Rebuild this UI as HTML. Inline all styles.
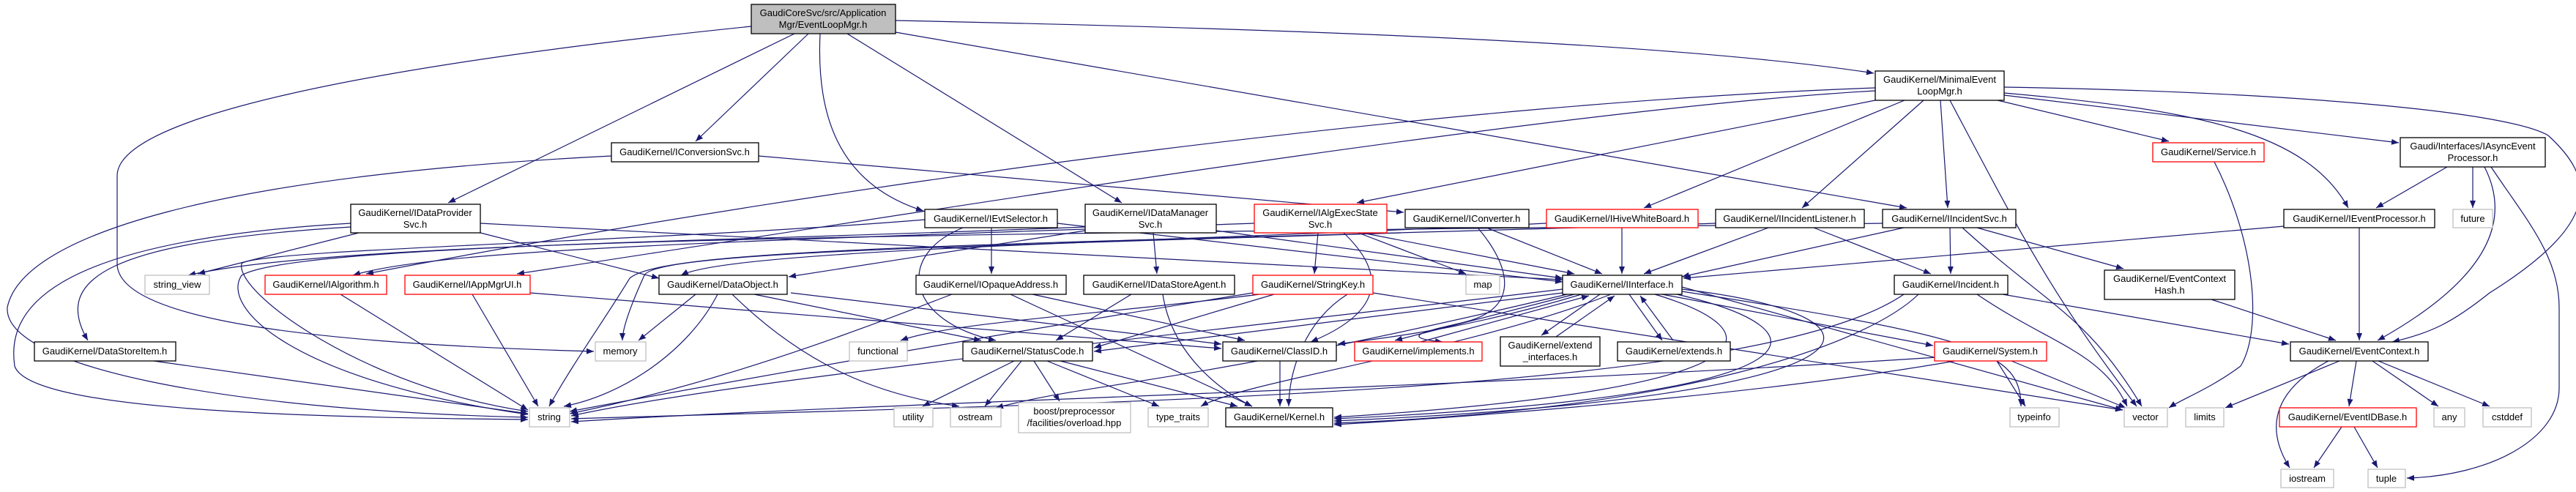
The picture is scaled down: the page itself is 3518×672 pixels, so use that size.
<!DOCTYPE html>
<html><head><meta charset="utf-8"><style>
html,body{margin:0;padding:0;background:#fff}
svg{display:block}
text{font-family:"Liberation Sans",sans-serif;font-size:13px;fill:#000;text-anchor:middle}
.e{fill:none;stroke:#191970;stroke-width:1.2}
.n{fill:#fff;stroke:#000;stroke-width:1.3}
.g{fill:#fff;stroke:#bfbfbf;stroke-width:1.3}
.r{fill:#fff;stroke:#ff0000;stroke-width:1.3}
</style></head><body>
<svg width="3518" height="672" viewBox="0 0 3518 672" xmlns="http://www.w3.org/2000/svg">
<defs><marker id="a" viewBox="0 0 10 10" refX="10" refY="5" markerWidth="10" markerHeight="10" markerUnits="userSpaceOnUse" orient="auto"><path d="M0,1 L10,5 L0,9 z" fill="#191970"/></marker></defs>
<g class="e" marker-end="url(#a)">
<path d="M1026,36 C500,90 160,160 160,240 L160,360 C160,440 450,470 811,480"/>
<path d="M1085,46 L612,277"/>
<path d="M1104,46 L950,193"/>
<path d="M1120,46 C1115,150 1140,250 1261,288"/>
<path d="M1157,46 L1532,277"/>
<path d="M1223,28 C1800,40 2300,60 2559,100"/>
<path d="M1223,44 L2604,284"/>
<path d="M2561,120 C2000,140 1200,240 500,374"/>
<path d="M2561,124 C2100,150 1200,300 706,374"/>
<path d="M2561,137 L1853,277"/>
<path d="M2601,137 L2245,284"/>
<path d="M2627,137 L2461,284"/>
<path d="M2650,137 L2660,284"/>
<path d="M2663,137 C2760,320 2800,400 2918,555"/>
<path d="M2728,137 L2962,193"/>
<path d="M2737,127 C3000,150 3150,180 3207,284"/>
<path d="M2737,130 L3276,195"/>
<path d="M2737,119 C3100,125 3420,150 3480,185 C3540,240 3560,300 3400,400 C3350,440 3320,455 3267,467"/>
<path d="M3342,228 L3245,284"/>
<path d="M3377,228 L3377,284"/>
<path d="M3393,228 C3430,300 3400,380 3247,465"/>
<path d="M3402,228 C3450,300 3495,350 3495,420 L3495,530 C3495,600 3400,650 3287,653"/>
<path d="M3222,311 L3222,465"/>
<path d="M3119,309 L2299,380"/>
<path d="M2663,311 L2664,374"/>
<path d="M2700,311 L2900,367"/>
<path d="M2680,311 C2800,420 2850,430 2925,555"/>
<path d="M2600,311 L2297,378"/>
<path d="M2415,311 L2245,374"/>
<path d="M2477,311 L2637,374"/>
<path d="M2215,311 L2215,374"/>
<path d="M2030,311 L2188,374"/>
<path d="M2018,311 C2060,360 2080,420 2000,440 C1960,450 1900,460 1970,467"/>
<path d="M1800,318 L1795,374"/>
<path d="M1855,318 L2002,374"/>
<path d="M1860,318 L2150,374"/>
<path d="M1835,318 C1900,380 1880,430 1790,467"/>
<path d="M1575,318 L1580,374"/>
<path d="M1661,315 L2134,380"/>
<path d="M1482,315 L1077,378"/>
<path d="M1354,311 L1354,374"/>
<path d="M1315,311 C1220,350 1240,440 1360,465"/>
<path d="M1444,305 L2134,385"/>
<path d="M1036,213 L1917,290"/>
<path d="M835,213 C300,240 30,320 10,420 C5,500 300,560 721,570"/>
<path d="M490,318 L270,374"/>
<path d="M656,318 L900,380"/>
<path d="M656,305 L2134,382"/>
<path d="M479,310 C150,330 70,380 120,465"/>
<path d="M479,305 C50,330 10,430 20,500 C40,560 400,570 721,573"/>
<path d="M950,402 L872,465"/>
<path d="M980,402 C940,480 850,540 770,555"/>
<path d="M1030,402 L1340,465"/>
<path d="M1080,400 L1668,470"/>
<path d="M1000,402 C1100,500 1200,540 1310,555"/>
<path d="M1300,402 C1200,440 1000,520 778,565"/>
<path d="M1380,402 L1710,555"/>
<path d="M1410,402 L1700,465"/>
<path d="M1588,402 C1600,480 1660,530 1710,555"/>
<path d="M1545,402 L1442,465"/>
<path d="M1740,402 L1494,475"/>
<path d="M1720,402 C1500,430 1300,440 1230,465"/>
<path d="M1711,400 C1400,450 1000,520 778,562"/>
<path d="M1840,402 C1780,440 1760,510 1760,555"/>
<path d="M1875,400 L2899,560"/>
<path d="M2134,400 L1494,480"/>
<path d="M2160,402 C2000,450 1900,460 1827,470"/>
<path d="M2150,402 L1905,465"/>
<path d="M1940,467 L2170,404"/>
<path d="M2185,402 L2105,458"/>
<path d="M2125,460 L2205,404"/>
<path d="M2225,402 L2270,465"/>
<path d="M2285,465 L2240,404"/>
<path d="M2270,402 L2640,472"/>
<path d="M2260,402 C2420,450 2450,530 1822,570"/>
<path d="M2290,402 C2500,450 2520,540 1822,572"/>
<path d="M2297,395 C2600,430 2620,540 1822,575"/>
<path d="M2297,392 L2899,560"/>
<path d="M2297,398 C2700,460 2760,480 2760,555"/>
<path d="M2200,402 C2000,480 1700,520 1640,555"/>
<path d="M2140,402 C1600,530 1500,520 1360,557"/>
<path d="M2134,395 C1500,470 1000,520 780,568"/>
<path d="M2735,402 L3126,470"/>
<path d="M2600,402 C2400,540 1500,550 780,572"/>
<path d="M2620,402 C2550,470 2300,560 1822,578"/>
<path d="M2700,402 C2800,470 2870,480 2905,555"/>
<path d="M2727,493 L2766,555"/>
<path d="M2747,493 L2903,557"/>
<path d="M2645,488 C2000,530 1200,550 780,576"/>
<path d="M2670,493 C2400,540 2000,570 1822,580"/>
<path d="M1385,493 L1260,555"/>
<path d="M1395,493 L1345,555"/>
<path d="M1412,493 L1447,548"/>
<path d="M1430,493 L1583,555"/>
<path d="M1448,493 L1690,555"/>
<path d="M1748,493 L1748,555"/>
<path d="M3020,409 L3190,465"/>
<path d="M3195,493 L3039,557"/>
<path d="M3218,493 L3208,555"/>
<path d="M3240,493 L3330,555"/>
<path d="M3248,493 L3400,555"/>
<path d="M3180,493 C3110,530 3090,580 3127,639"/>
<path d="M3198,583 L3160,639"/>
<path d="M3215,583 L3247,639"/>
<path d="M3024,221 C3080,330 3090,450 3060,500 C3020,530 2980,545 2962,557"/>
<path d="M465,402 L721,560"/>
<path d="M645,402 L735,555"/>
<path d="M724,400 L1668,476"/>
<path d="M210,493 L721,565"/>
<path d="M2571,305 C1500,320 500,320 257,376"/>
<path d="M1713,305 C1000,330 600,340 482,376"/>
<path d="M1482,310 C1000,330 400,335 330,376 C300,420 400,520 721,566"/>
<path d="M1263,300 C900,330 350,340 330,360 C320,400 500,530 721,562"/>
<path d="M2343,305 C1600,330 900,335 880,376 C860,420 850,450 850,465"/>
<path d="M2112,305 C1600,330 1000,340 930,376"/>
<path d="M1913,318 C1200,340 900,345 860,380 C830,430 780,500 750,555"/>
</g>
<g>
<rect class="n" x="1026" y="6" width="197" height="40" style="fill:#bfbfbf"/><text x="1124" y="22">GaudiCoreSvc/src/Application</text><text x="1124" y="38">Mgr/EventLoopMgr.h</text>
<rect class="n" x="2561" y="97" width="176" height="40"/><text x="2649" y="113">GaudiKernel/MinimalEvent</text><text x="2649" y="129">LoopMgr.h</text>
<rect class="n" x="835" y="195" width="201" height="26"/><text x="935" y="212">GaudiKernel/IConversionSvc.h</text>
<rect class="r" x="2940" y="195" width="152" height="26"/><text x="3016" y="212">GaudiKernel/Service.h</text>
<rect class="n" x="3278" y="188" width="198" height="40"/><text x="3377" y="204">Gaudi/Interfaces/IAsyncEvent</text><text x="3377" y="220">Processor.h</text>
<rect class="n" x="479" y="279" width="177" height="39"/><text x="567" y="295">GaudiKernel/IDataProvider</text><text x="567" y="311">Svc.h</text>
<rect class="n" x="1263" y="286" width="181" height="25"/><text x="1353" y="303">GaudiKernel/IEvtSelector.h</text>
<rect class="n" x="1482" y="279" width="179" height="39"/><text x="1571" y="295">GaudiKernel/IDataManager</text><text x="1571" y="311">Svc.h</text>
<rect class="r" x="1713" y="279" width="181" height="39"/><text x="1803" y="295">GaudiKernel/IAlgExecState</text><text x="1803" y="311">Svc.h</text>
<rect class="n" x="1919" y="286" width="169" height="25"/><text x="2003" y="303">GaudiKernel/IConverter.h</text>
<rect class="r" x="2112" y="286" width="207" height="25"/><text x="2215" y="303">GaudiKernel/IHiveWhiteBoard.h</text>
<rect class="n" x="2343" y="286" width="203" height="25"/><text x="2444" y="303">GaudiKernel/IIncidentListener.h</text>
<rect class="n" x="2571" y="286" width="182" height="25"/><text x="2662" y="303">GaudiKernel/IIncidentSvc.h</text>
<rect class="n" x="3119" y="286" width="206" height="25"/><text x="3222" y="303">GaudiKernel/IEventProcessor.h</text>
<rect class="g" x="3350" y="286" width="54" height="25"/><text x="3377" y="303">future</text>
<rect class="g" x="198" y="376" width="88" height="26"/><text x="242" y="393">string_view</text>
<rect class="r" x="362" y="376" width="166" height="26"/><text x="445" y="393">GaudiKernel/IAlgorithm.h</text>
<rect class="r" x="553" y="376" width="171" height="26"/><text x="638" y="393">GaudiKernel/IAppMgrUI.h</text>
<rect class="n" x="900" y="376" width="175" height="26"/><text x="987" y="393">GaudiKernel/DataObject.h</text>
<rect class="n" x="1251" y="376" width="205" height="26"/><text x="1353" y="393">GaudiKernel/IOpaqueAddress.h</text>
<rect class="n" x="1480" y="376" width="206" height="26"/><text x="1583" y="393">GaudiKernel/IDataStoreAgent.h</text>
<rect class="r" x="1711" y="376" width="164" height="26"/><text x="1793" y="393">GaudiKernel/StringKey.h</text>
<rect class="g" x="2002" y="376" width="46" height="26"/><text x="2025" y="393">map</text>
<rect class="n" x="2134" y="376" width="163" height="26"/><text x="2215" y="393">GaudiKernel/IInterface.h</text>
<rect class="n" x="2587" y="376" width="155" height="26"/><text x="2664" y="393">GaudiKernel/Incident.h</text>
<rect class="n" x="2874" y="369" width="178" height="40"/><text x="2963" y="385">GaudiKernel/EventContext</text><text x="2963" y="401">Hash.h</text>
<rect class="n" x="47" y="467" width="193" height="26"/><text x="143" y="484">GaudiKernel/DataStoreItem.h</text>
<rect class="g" x="813" y="467" width="69" height="26"/><text x="847" y="484">memory</text>
<rect class="g" x="1160" y="467" width="79" height="26"/><text x="1199" y="484">functional</text>
<rect class="n" x="1315" y="467" width="177" height="26"/><text x="1403" y="484">GaudiKernel/StatusCode.h</text>
<rect class="n" x="1670" y="467" width="155" height="26"/><text x="1747" y="484">GaudiKernel/ClassID.h</text>
<rect class="r" x="1850" y="467" width="174" height="26"/><text x="1937" y="484">GaudiKernel/implements.h</text>
<rect class="n" x="2049" y="460" width="136" height="40"/><text x="2117" y="476">GaudiKernel/extend</text><text x="2117" y="492">_interfaces.h</text>
<rect class="n" x="2209" y="467" width="154" height="26"/><text x="2286" y="484">GaudiKernel/extends.h</text>
<rect class="r" x="2642" y="467" width="153" height="26"/><text x="2718" y="484">GaudiKernel/System.h</text>
<rect class="n" x="3128" y="467" width="188" height="26"/><text x="3222" y="484">GaudiKernel/EventContext.h</text>
<rect class="g" x="723" y="557" width="55" height="26"/><text x="750" y="574">string</text>
<rect class="g" x="1221" y="557" width="53" height="26"/><text x="1247" y="574">utility</text>
<rect class="g" x="1298" y="557" width="69" height="26"/><text x="1332" y="574">ostream</text>
<rect class="g" x="1391" y="550" width="153" height="41"/><text x="1467" y="566">boost/preprocessor</text><text x="1467" y="582">/facilities/overload.hpp</text>
<rect class="g" x="1568" y="557" width="82" height="26"/><text x="1609" y="574">type_traits</text>
<rect class="n" x="1674" y="557" width="146" height="26"/><text x="1747" y="574">GaudiKernel/Kernel.h</text>
<rect class="g" x="2745" y="557" width="67" height="26"/><text x="2778" y="574">typeinfo</text>
<rect class="g" x="2901" y="557" width="59" height="26"/><text x="2930" y="574">vector</text>
<rect class="g" x="2985" y="557" width="52" height="26"/><text x="3011" y="574">limits</text>
<rect class="r" x="3113" y="557" width="187" height="26"/><text x="3206" y="574">GaudiKernel/EventIDBase.h</text>
<rect class="g" x="3324" y="557" width="42" height="26"/><text x="3345" y="574">any</text>
<rect class="g" x="3391" y="557" width="66" height="26"/><text x="3424" y="574">cstddef</text>
<rect class="g" x="3115" y="641" width="72" height="25"/><text x="3151" y="658">iostream</text>
<rect class="g" x="3234" y="641" width="51" height="25"/><text x="3259" y="658">tuple</text>
</g>
</svg>
</body></html>
